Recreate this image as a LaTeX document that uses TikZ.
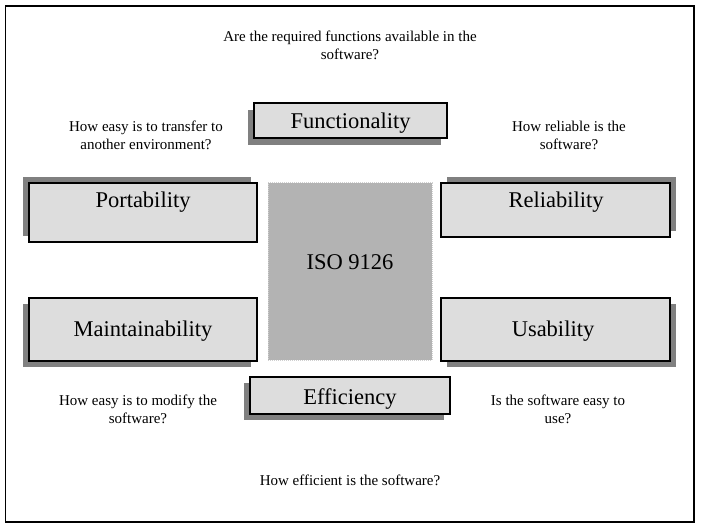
\documentclass[tikz,border=0pt]{standalone}
\usepackage{fontspec}
\setmainfont{Liberation Serif}
\definecolor{boxfill}{HTML}{DDDDDD}
\definecolor{shadowc}{HTML}{808080}
\definecolor{isofill}{HTML}{B3B3B3}
\definecolor{isoedge}{HTML}{D0D0D0}
\newcommand\twolines[2]{\begin{tabular}[t]{@{}c@{}}#1\\#2\end{tabular}}
\begin{document}
\begin{tikzpicture}[x=1pt,y=-1pt,
  qbox/.style={draw=black, line width=1.2pt, fill=boxfill, rectangle, inner sep=0pt},
  shade/.style={fill=shadowc},
  big/.style={font=\fontsize{22.5}{27}\selectfont, anchor=base, inner sep=0pt},
  small/.style={font=\fontsize{15}{18}\selectfont, anchor=base, inner sep=0pt}]
\useasboundingbox (0,0) rectangle (701,526);
\draw[line width=1.4pt] (5.5,6) rectangle (694,522);

% shadows
\fill[shade] (248,110) rectangle (441,145);   % functionality
\fill[shade] (23,177) rectangle (251,236);    % portability
\fill[shade] (447,177) rectangle (676,231);   % reliability
\fill[shade] (23,304) rectangle (251,367);    % maintainability
\fill[shade] (447,304) rectangle (676,367);   % usability
\fill[shade] (244,383) rectangle (444,420);   % efficiency

% boxes
\node[qbox, minimum width=193pt, minimum height=35pt] (func) at (350.5,120.5) {};
\node[qbox, minimum width=228pt, minimum height=59pt] (port) at (143,212.5) {};
\node[qbox, minimum width=229pt, minimum height=54pt] (rel) at (555.5,210) {};
\node[qbox, minimum width=228pt, minimum height=63pt] (maint) at (143,329.5) {};
\node[qbox, minimum width=229pt, minimum height=63pt] (usab) at (555.5,329.5) {};
\node[qbox, minimum width=200pt, minimum height=37pt] (eff) at (350,395.5) {};
\node[draw=isoedge, densely dotted, line width=1pt, fill=isofill, minimum width=164pt, minimum height=177pt, inner sep=0pt] (iso) at (350,271.5) {};

% box labels
\node[big] (tfunc) at (350.5,129) {Functionality};
\node[big] (tport) at (143,208) {Portability};
\node[big] (trel) at (556,208) {Reliability};
\node[big] (tmaint) at (143,337) {Maintainability};
\node[big] (tusab) at (553,337) {Usability};
\node[big] (teff) at (350,404) {Efficiency};
\node[big] (tiso) at (350,270) {ISO 9126};

% questions
\node[small] (qfunc) at (350,42) {\twolines{Are the required functions available in the}{software?}};
\node[small] (qport) at (146,132) {\twolines{How easy is to transfer to}{another environment?}};
\node[small] (qrel) at (569,132) {\twolines{How reliable is the}{software?}};
\node[small] (qmaint) at (138,405) {\twolines{How easy is to modify the}{software?}};
\node[small] (qusab) at (558,405) {\twolines{Is the software easy to}{use?}};
\node[small] (qeff) at (350,485) {How efficient is the software?};
\end{tikzpicture}
\end{document}
